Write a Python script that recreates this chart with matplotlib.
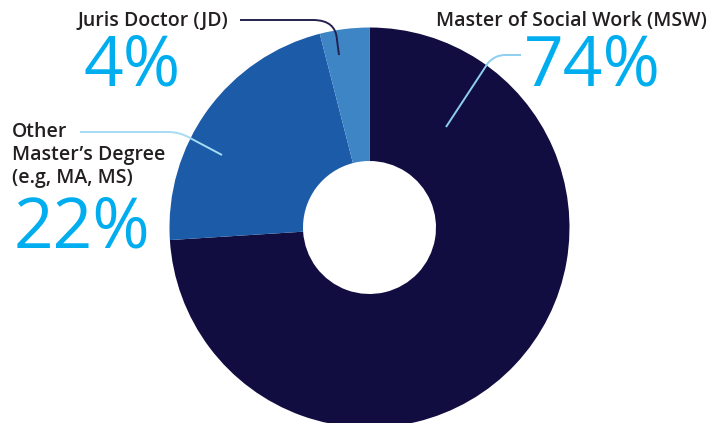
import matplotlib.pyplot as plt
from matplotlib.path import Path
from matplotlib.patches import PathPatch

# data
labels = ["Master of Social Work (MSW)", "Other\nMaster\u2019s Degree\n(e.g, MA, MS)", "Juris Doctor (JD)"]
values = [74, 22, 4]
pct_labels = ["74%", "22%", "4%"]
colors = ["#120d40", "#1b5ba8", "#3e85c6"]

W, H = 726, 423
TEXT = "#231f20"
CYAN = "#00aeef"
plt.rcParams['font.family'] = ['Open Sans', 'DejaVu Sans']

fig = plt.figure(figsize=(W / 100, H / 100), dpi=100)
ax = fig.add_axes([0, 0, 1, 1])

# y axis is flipped (pixel coords), so start at -90 and go "counterclock" -> clockwise on screen
ax.pie(values, colors=colors, startangle=-90, counterclock=True,
       radius=200, center=(369.5, 227.5),
       wedgeprops=dict(width=133.5, linewidth=0))
ax.set_xlim(0, W)
ax.set_ylim(H, 0)
ax.set_aspect('equal')
ax.axis('off')

lab = dict(fontsize=14, color=TEXT, fontweight='semibold')
pct = dict(fontsize=50, color=CYAN, ha='center', va='baseline')

# labels
ax.text(228, 26, labels[2], ha='right', va='baseline', **lab)
ax.text(132, 85, pct_labels[2], **pct)

ax.text(707, 26, labels[0], ha='right', va='baseline', **lab)
ax.text(592, 85, pct_labels[0], **pct)

ax.text(12, 155, labels[1], ha='left', va='center', linespacing=1.2, **lab)
ax.text(82, 247, pct_labels[1], **pct)

# leader lines
def leader(pts, color):
    codes = [Path.MOVETO, Path.LINETO, Path.CURVE3, Path.CURVE3, Path.LINETO]
    ax.add_patch(PathPatch(Path(pts, codes), fill=False, edgecolor=color, lw=1.4))

leader([(240, 20), (313, 20), (336, 20), (337, 40), (339, 55)], "#24214f")
leader([(521, 55), (505, 55), (495, 55), (488, 63), (446, 127)], "#8ccff0")
leader([(80, 132), (168, 132), (180, 132), (190, 138), (222, 155)], "#a6dcf4")

fig.savefig("out.png", dpi=100)
